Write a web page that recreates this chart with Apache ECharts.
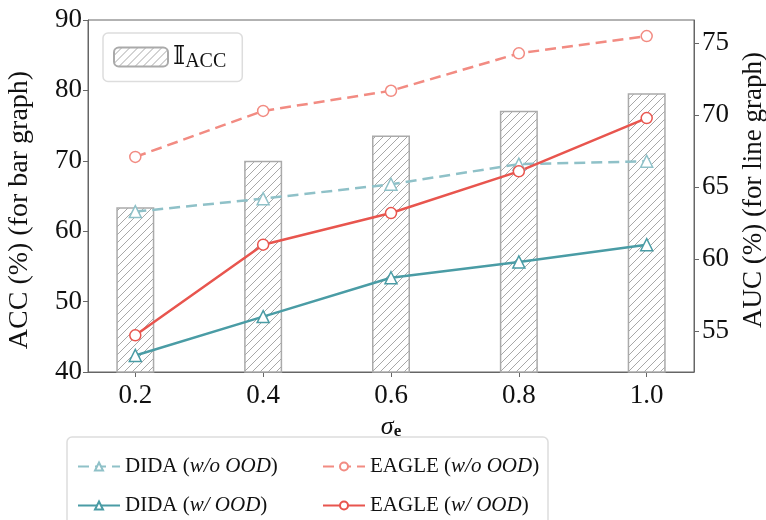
<!DOCTYPE html>
<html>
<head>
<meta charset="utf-8">
<script src="https://cdn.jsdelivr.net/npm/echarts@6/dist/echarts.min.js"></script>
<style>
html,body{margin:0;padding:0;background:#fff;}
#main{width:766px;height:520px;}
</style>
</head>
<body>
<div id="main"></div>
<script>
var sigma = [0.2, 0.4, 0.6, 0.8, 1.0];
var accBar = [63.4, 70.0, 73.6, 77.1, 79.6];
var didaWo = [63.3, 64.2, 65.2, 66.6, 66.8];
var didaW = [53.3, 56.0, 58.7, 59.8, 61.0];
var eagleWo = [67.1, 70.3, 71.7, 74.3, 75.5];
var eagleW = [54.7, 61.0, 63.2, 66.1, 69.8];
var accTicks = [40, 50, 60, 70, 80, 90];
var aucTicks = [55, 60, 65, 70, 75];

function pairs(ys){
    return sigma.map(function(x, i){ return [x, ys[i]]; });
}

// hatch pattern for bars
var pat = document.createElement('canvas');
pat.width = 8; pat.height = 8;
var ctx = pat.getContext('2d');
ctx.fillStyle = '#fff';
ctx.fillRect(0, 0, 8, 8);
ctx.strokeStyle = '#a8a8a8';
ctx.lineWidth = 1;
ctx.beginPath();
ctx.moveTo(0, 8); ctx.lineTo(8, 0);
ctx.moveTo(-2, 2); ctx.lineTo(2, -2);
ctx.moveTo(6, 10); ctx.lineTo(10, 6);
ctx.stroke();

var serif = 'Liberation Serif';
var legendRich = {
    n: {fontFamily: serif, fontSize: 21, color: '#111'},
    i: {fontFamily: serif, fontSize: 21, fontStyle: 'italic', color: '#111'}
};

function lineLegend(name, left, top, text){
    return {
        data: [name], left: left, top: top,
        itemWidth: 42, itemHeight: 10,
        formatter: function(){ return text; },
        textStyle: {rich: legendRich}
    };
}

var chart = echarts.init(document.getElementById('main'));
var option = {
    animation: false,
    textStyle: {fontFamily: serif},
    grid: {
        left: 88, right: 72, top: 20, bottom: 148,
        containLabel: false, outerBoundsMode: 'none',
        show: true, borderColor: '#666', borderWidth: 1
    },
    legend: [
        {
            data: ['IACC'],
            left: 103, top: 33,
            padding: [11, 16, 10, 10],
            itemWidth: 54, itemHeight: 19,
            borderColor: '#ddd', borderWidth: 1.5, borderRadius: 5,
            formatter: function(){ return '{b|𝕀}{s|ACC}'; },
            textStyle: {
                rich: {
                    b: {fontFamily: 'DejaVu Serif', fontSize: 26, color: '#111'},
                    s: {fontFamily: serif, fontSize: 20, color: '#111', padding: [9, 0, 0, 0]}
                }
            }
        },
        lineLegend('DIDA (w/o OOD)', 72, 451, '{n|DIDA (}{i|w/o OOD}{n|)}'),
        lineLegend('DIDA (w/ OOD)', 72, 490, '{n|DIDA (}{i|w/ OOD}{n|)}'),
        lineLegend('EAGLE (w/o OOD)', 317, 451, '{n|EAGLE (}{i|w/o OOD}{n|)}'),
        lineLegend('EAGLE (w/ OOD)', 317, 490, '{n|EAGLE (}{i|w/ OOD}{n|)}')
    ],
    graphic: [
        {
            type: 'rect',
            shape: {x: 67, y: 437, width: 481, height: 100, r: 5},
            style: {fill: 'none', stroke: '#ddd', lineWidth: 1.5},
            z: 0
        }
    ],
    xAxis: {
        type: 'value',
        min: 0.126, max: 1.074,
        name: '{s|σ}{e|e}',
        nameLocation: 'middle',
        nameGap: 30,
        nameTextStyle: {
            rich: {
                s: {fontFamily: serif, fontSize: 26, fontStyle: 'italic', color: '#111'},
                e: {fontFamily: serif, fontSize: 17, fontWeight: 'bold', color: '#111', padding: [10, 0, 0, 0]}
            }
        },
        splitLine: {show: false},
        axisLine: {lineStyle: {color: '#666'}},
        axisTick: {customValues: sigma, length: 5, lineStyle: {color: '#666'}},
        axisLabel: {
            customValues: sigma,
            fontFamily: serif, fontSize: 27, color: '#111', margin: 10,
            formatter: function(v){ return v.toFixed(1); }
        }
    },
    yAxis: [
        {
            type: 'value',
            min: 40, max: 90, interval: 10,
            name: 'ACC (%) (for bar graph)',
            nameLocation: 'middle',
            nameGap: 54,
            nameTextStyle: {fontFamily: serif, fontSize: 28, color: '#111', padding: [0, 28, 0, 0]},
            splitLine: {show: false},
            axisLine: {show: true, lineStyle: {color: '#666'}},
            axisTick: {show: true, length: 5, lineStyle: {color: '#666'}},
            axisLabel: {
                customValues: accTicks,
                fontFamily: serif, fontSize: 27, color: '#111', margin: 6
            }
        },
        {
            type: 'value',
            min: 52.15, max: 76.62,
            position: 'right',
            name: 'AUC (%) (for line graph)',
            nameLocation: 'middle',
            nameGap: 46,
            nameRotate: 90,
            nameTextStyle: {fontFamily: serif, fontSize: 27, color: '#111', padding: [0, 0, 0, 12]},
            splitLine: {show: false},
            axisLine: {show: true, lineStyle: {color: '#666'}},
            axisTick: {show: true, customValues: aucTicks, length: 5, lineStyle: {color: '#666'}},
            axisLabel: {
                customValues: aucTicks,
                fontFamily: serif, fontSize: 27, color: '#111', margin: 8
            }
        }
    ],
    series: [
        {
            name: 'IACC',
            type: 'bar',
            yAxisIndex: 0,
            barWidth: 38,
            data: pairs(accBar),
            itemStyle: {
                color: {image: pat, repeat: 'repeat'},
                borderColor: '#aaa', borderWidth: 1.5
            },
            z: 1
        },
        {
            name: 'DIDA (w/o OOD)',
            type: 'line', yAxisIndex: 1,
            data: pairs(didaWo),
            symbol: 'triangle', symbolSize: 12,
            lineStyle: {color: '#8fc1c8', width: 2.5, type: [11, 6]},
            itemStyle: {color: '#fff', borderColor: '#8fc1c8', borderWidth: 1.5},
            z: 3
        },
        {
            name: 'DIDA (w/ OOD)',
            type: 'line', yAxisIndex: 1,
            data: pairs(didaW),
            symbol: 'triangle', symbolSize: 12,
            lineStyle: {color: '#4a9ca5', width: 2.5},
            itemStyle: {color: '#fff', borderColor: '#4a9ca5', borderWidth: 1.5},
            z: 3
        },
        {
            name: 'EAGLE (w/o OOD)',
            type: 'line', yAxisIndex: 1,
            data: pairs(eagleWo),
            symbol: 'circle', symbolSize: 11,
            lineStyle: {color: '#f28b82', width: 2.5, type: [11, 6]},
            itemStyle: {color: '#fff', borderColor: '#f28b82', borderWidth: 1.5},
            z: 3
        },
        {
            name: 'EAGLE (w/ OOD)',
            type: 'line', yAxisIndex: 1,
            data: pairs(eagleW),
            symbol: 'circle', symbolSize: 11,
            lineStyle: {color: '#e8554e', width: 2.5},
            itemStyle: {color: '#fff', borderColor: '#e8554e', borderWidth: 1.5},
            z: 3
        }
    ]
};
chart.setOption(option);
</script>
</body>
</html>
